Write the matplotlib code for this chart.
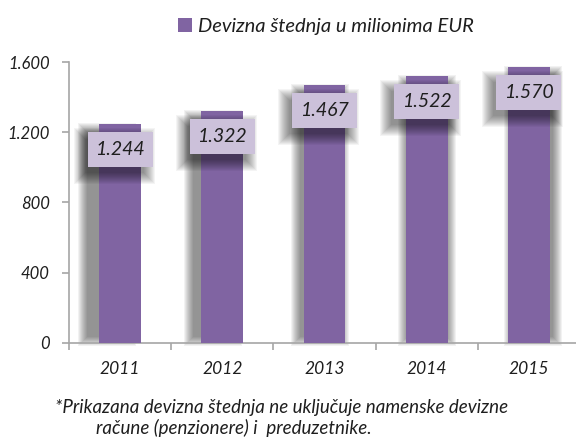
import matplotlib

matplotlib.use("Agg")
import matplotlib.pyplot as plt
from matplotlib.patches import Rectangle
from matplotlib.transforms import IdentityTransform

plt.rcParams["font.family"] = ["Lato", "DejaVu Sans"]
plt.rcParams["font.style"] = "italic"

YEARS = ["2011", "2012", "2013", "2014", "2015"]
SAVINGS = [1244, 1322, 1467, 1522, 1570]
Y_TICKS = [0, 400, 800, 1200, 1600]

PURPLE = "#8064A2"
LAVENDER = "#CCC1DA"
GREY = "#A6A6A6"
TEXT = "#1E1E1E"


def soft_rect(ax, x0, y0, x1, y1, alpha, spread, z):
    # stack of translucent rectangles in pixel space -> blurred edge
    n = spread
    for k in range(n):
        d = spread / 2 - k
        ax.add_patch(Rectangle((x0 - d, y0 - d), (x1 - x0) + 2 * d, (y1 - y0) + 2 * d,
                               transform=IdentityTransform(), fc="black", ec="none",
                               alpha=alpha / n, zorder=z, clip_on=False))


def main(out="out.png"):
    fig = plt.figure(figsize=(5.76, 4.37), dpi=100)
    ax = fig.add_axes([0.1198, 0.2158, 0.887, 0.6423])
    ax.set_xlim(-0.5, len(YEARS) - 0.5)
    ax.set_ylim(0, 1600)

    bars = ax.bar(range(len(YEARS)), SAVINGS, width=0.41, color=PURPLE, zorder=3,
                  label="Devizna štednja u milionima EUR")

    # axes styling
    for s in ("top", "right"):
        ax.spines[s].set_visible(False)
    for s in ("left", "bottom"):
        ax.spines[s].set_color(GREY)
        ax.spines[s].set_linewidth(1.2)
        ax.spines[s].set_zorder(2)
    ax.set_yticks(Y_TICKS)
    ax.set_yticklabels([f"{t:,}".replace(",", ".") for t in Y_TICKS])
    ax.set_xticks(range(len(YEARS)))
    ax.set_xticklabels(YEARS)
    ax.set_xticks([i - 0.5 for i in range(len(YEARS) + 1)], minor=True)
    ax.tick_params(axis="x", which="major", length=0, pad=13, labelsize=12.5, labelcolor=TEXT)
    ax.tick_params(axis="x", which="minor", length=5, color=GREY, width=1.2)
    ax.tick_params(axis="y", length=5, color=GREY, width=1.2, pad=9, labelsize=12,
                   labelcolor=TEXT)

    # shadows and value boxes, placed in pixel space from the bar geometry
    fig.canvas.draw()
    for i, (b, v) in enumerate(zip(bars, SAVINGS)):
        (bx0, by0), (bx1, by1) = ax.transData.transform(
            [(b.get_x(), 0), (b.get_x() + b.get_width(), v)])
        shift = (i - 3) * 4.5
        soft_rect(ax, bx0 + shift - 3, by0 + 2, bx1 + shift + 3, by1 - 4, 0.5, 10, 1)

        cx = (bx0 + bx1) / 2
        w, h = 65, 35
        top = by1 - 8
        soft_rect(ax, cx - w / 2 - 8, top - h - 11, cx + w / 2 - 4, top - 2, 0.5, 12, 4)
        ax.add_patch(Rectangle((cx - w / 2, top - h), w, h, transform=IdentityTransform(),
                               fc=LAVENDER, ec="none", zorder=5, clip_on=False))
        ax.text(cx, top - h / 2, f"{v / 1000:.3f}", transform=IdentityTransform(),
                ha="center", va="center", fontsize=14, color=TEXT, zorder=6)

    fig.legend(handles=[bars], loc="center", bbox_to_anchor=(0.566, 0.94), frameon=False,
               handlelength=0.7, handleheight=0.7, handletextpad=0.3, fontsize=14.5,
               labelcolor=TEXT)

    fig.text(0.096, 0.068, "*Prikazana devizna štednja ne uključuje namenske devizne",
             ha="left", va="center", fontsize=13.5, color=TEXT)
    fig.text(0.167, 0.02, "račune (penzionere) i  preduzetnike.",
             ha="left", va="center", fontsize=13.5, color=TEXT)

    fig.savefig(out, dpi=100, facecolor="white")


if __name__ == "__main__":
    main()
